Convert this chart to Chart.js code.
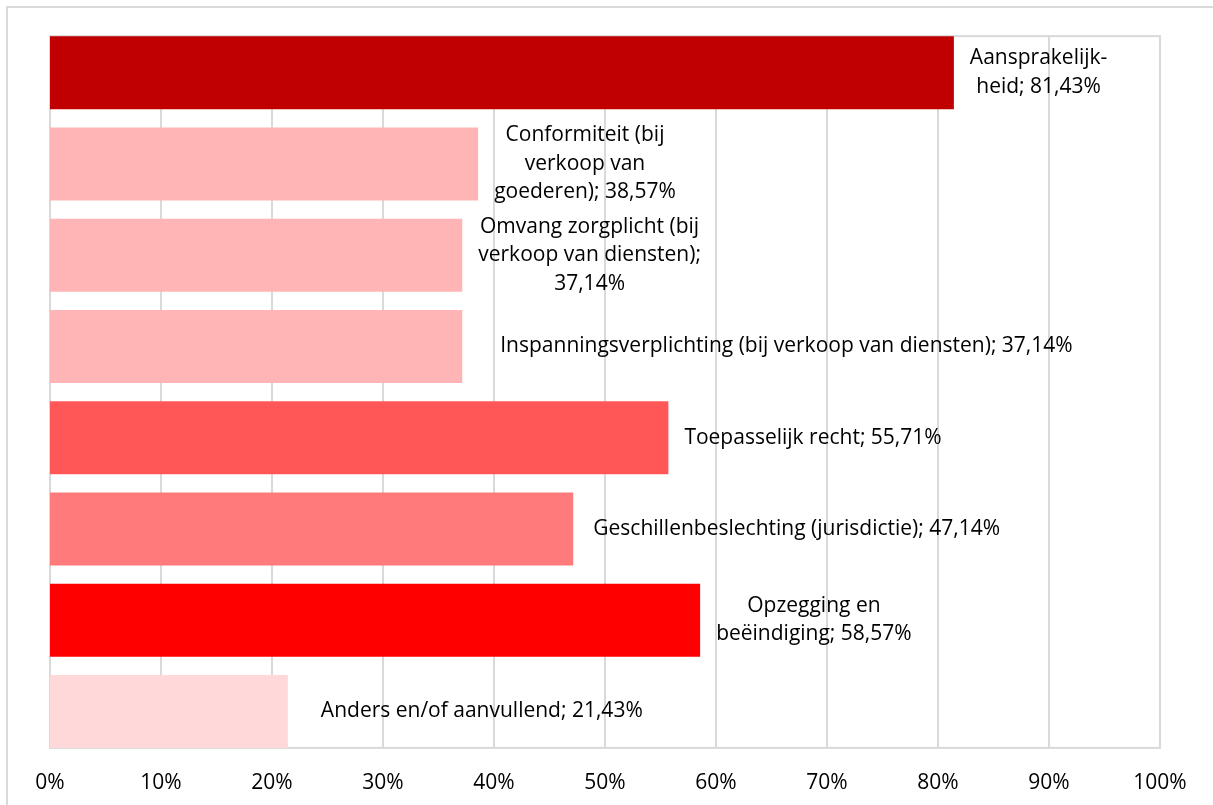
<!DOCTYPE html>
<html>
<head>
<meta charset="utf-8">
<script src="https://cdn.jsdelivr.net/npm/chart.js@4"></script>
<style>
    html, body { margin: 0; padding: 0; background: #fff; }
    #wrap { position: relative; width: 1213px; height: 805px; overflow: hidden; }
    #frame { position: absolute; left: 6px; top: 6px; width: 1300px; height: 900px;
             border-left: 2px solid #d9d9d9; border-top: 2px solid #d9d9d9; }
    canvas { position: absolute; left: 0; top: 0; }
</style>
</head>
<body>
<div id="wrap">
    <div id="frame"></div>
    <canvas id="barChart" width="1213" height="805"></canvas>
</div>
<script>
// Categorieën (met handmatige regeleinden zoals in het origineel)
const categorieen = [
    'Aansprakelijk-\nheid',
    'Conformiteit (bij\nverkoop van\ngoederen)',
    'Omvang zorgplicht (bij\nverkoop van diensten)',
    'Inspanningsverplichting (bij verkoop van diensten)',
    'Toepasselijk recht',
    'Geschillenbeslechting (jurisdictie)',
    'Opzegging en\nbeëindiging',
    'Anders en/of aanvullend'
];
const percentages = [81.43, 38.57, 37.14, 37.14, 55.71, 47.14, 58.57, 21.43];
const waardeOpNieuweRegel = [false, false, true, false, false, false, false, false];
const tickWaarden = [0, 10, 20, 30, 40, 50, 60, 70, 80, 90, 100];

const kleuren = ['#C00000', '#FFB5B5', '#FFB5B5', '#FFB5B5', '#FF5757', '#FF7B7B', '#FF0000', '#FFD9D9'];
const labelVerschuiving = [0, 0, 0, 22, 0, 4, 0, 17];

const FONT = "'Open Sans', Lato, sans-serif";
const BALK = 0.8;

const fmt = v => v.toFixed(2).replace('.', ',') + '%';

const labelRegels = categorieen.map((c, i) =>
    (c + ';' + (waardeOpNieuweRegel[i] ? '\n' : ' ') + fmt(percentages[i])).split('\n'));

// plotgebied zoals in Excel: rand en rasterlijnen tot de buitenkant van de balken
const plotRand = {
    id: 'plotRand',
    beforeDatasetsDraw(chart) {
        const { ctx, chartArea: a, scales } = chart;
        const band = (a.bottom - a.top) / categorieen.length;
        const marge = band * (1 - BALK) / 2;
        const top = a.top + marge, bottom = a.bottom - marge;
        ctx.save();
        ctx.strokeStyle = '#d9d9d9';
        ctx.lineWidth = 2;
        tickWaarden.forEach(v => {
            const x = scales.x.getPixelForValue(v);
            ctx.beginPath();
            ctx.moveTo(x, top);
            ctx.lineTo(x, bottom);
            ctx.stroke();
        });
        ctx.strokeRect(a.left, top, a.right - a.left, bottom - top);
        ctx.restore();
    }
};

const balkLabels = {
    id: 'balkLabels',
    afterDatasetsDraw(chart) {
        const { ctx } = chart;
        const meta = chart.getDatasetMeta(0);
        ctx.save();
        ctx.font = '21px ' + FONT;
        ctx.fillStyle = '#000';
        ctx.textAlign = 'center';
        ctx.textBaseline = 'middle';
        const lh = 28.5;
        meta.data.forEach((bar, i) => {
            const regels = labelRegels[i];
            const breedte = Math.max(...regels.map(r => ctx.measureText(r).width));
            const midX = bar.x + 16 + labelVerschuiving[i] + breedte / 2;
            const startY = bar.y - (regels.length - 1) * lh / 2;
            regels.forEach((r, j) => ctx.fillText(r, midX, startY + j * lh));
        });
        ctx.restore();
    }
};

new Chart(document.getElementById('barChart'), {
    type: 'bar',
    data: {
        labels: categorieen,
        datasets: [{
            data: percentages,
            backgroundColor: kleuren,
            borderWidth: 0,
            barPercentage: BALK,
            categoryPercentage: 1
        }]
    },
    options: {
        indexAxis: 'y',
        responsive: false,
        animation: false,
        layout: { padding: { left: 50, top: 27, right: 53, bottom: 0 } },
        plugins: {
            legend: { display: false },
            tooltip: { enabled: false }
        },
        scales: {
            x: {
                min: 0,
                max: 100,
                afterBuildTicks: axis => { axis.ticks = tickWaarden.map(v => ({ value: v })); },
                afterFit: axis => { axis.height = 48; },
                grid: { display: false },
                border: { display: false },
                ticks: {
                    padding: 5,
                    color: '#000',
                    font: { family: FONT, size: 21 },
                    callback: v => v + '%'
                }
            },
            y: {
                afterFit: axis => { axis.width = 0; },
                grid: { display: false },
                border: { display: false },
                ticks: { display: false }
            }
        }
    },
    plugins: [plotRand, balkLabels]
});
</script>
</body>
</html>
